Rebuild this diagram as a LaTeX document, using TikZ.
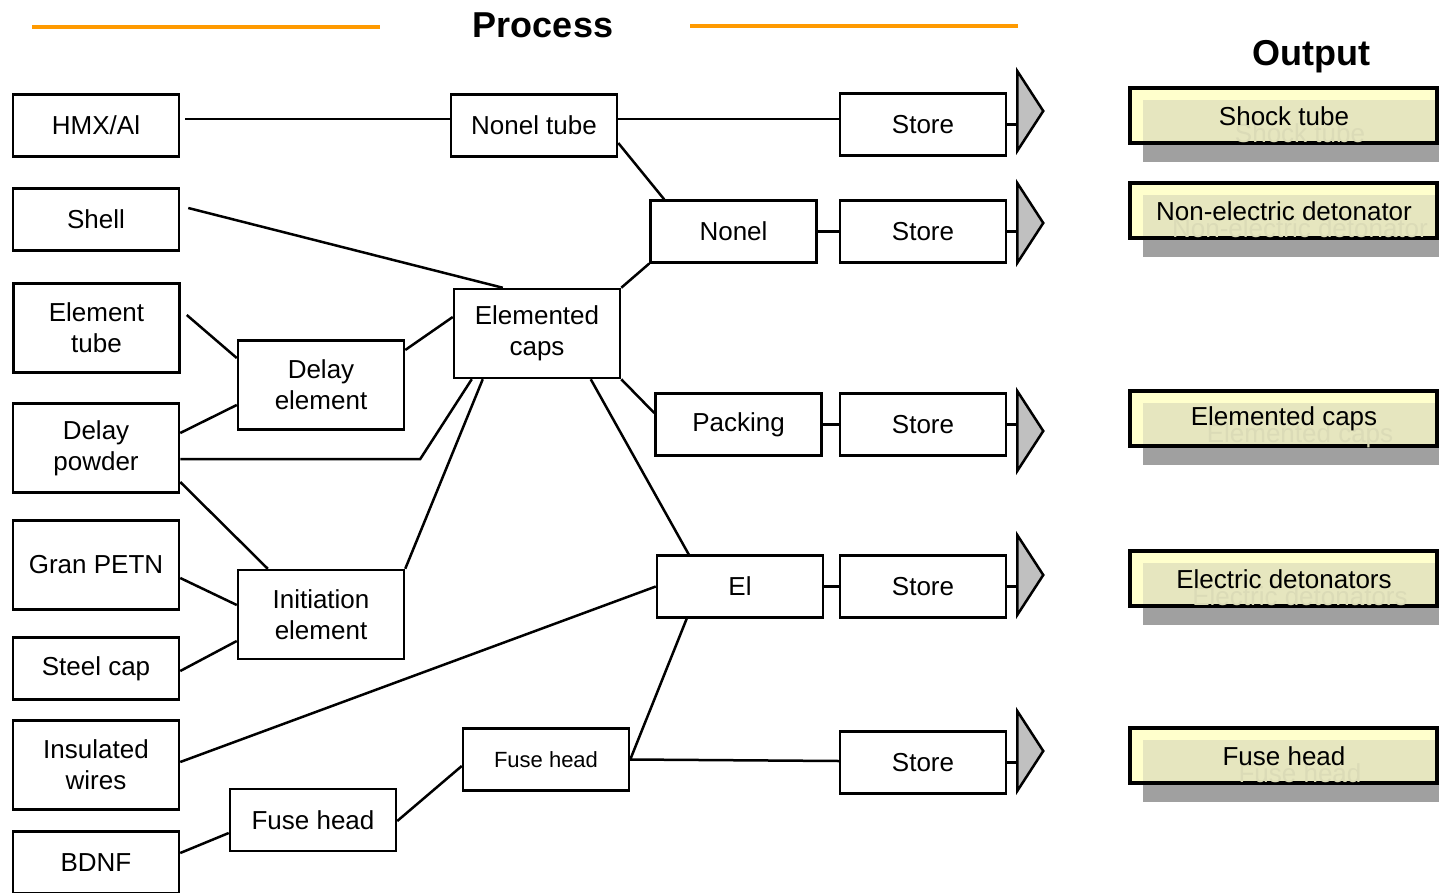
\documentclass[tikz,border=0pt]{standalone}
\usepackage{fontspec}
\setmainfont{Liberation Sans}
\usetikzlibrary{calc}
\definecolor{headorange}{HTML}{FF9A00}
\definecolor{outfill}{HTML}{FFFFCC}
\definecolor{outinner}{HTML}{E6E6BF}
\definecolor{outshadow}{HTML}{A0A0A0}
\definecolor{ghosttext}{HTML}{DBDBB7}
\definecolor{tipgray}{HTML}{C0C0C0}

\begin{document}
\begin{tikzpicture}[
  x=0.5pt, y=-0.5pt,
  line width=1.25pt,
  every node/.style={font=\fontsize{13}{15.5}\selectfont},
  box/.style={draw, line width=1.25pt, minimum width=83pt,
    minimum height=30.8pt, inner sep=0pt, align=center},
  tallbox/.style={box, minimum height=44.5pt},
  head/.style={font=\fontsize{18}{20}\selectfont\bfseries}
]
\useasboundingbox (0,0) rectangle (1439,893);
% headings
\node[head] (process) at (543,25) {Process};
\node[head] (output) at (1311,57) {Output};
\draw[headorange, line width=2pt] (32,27) -- (380,27);
\draw[headorange, line width=2pt] (690,26) -- (1018,26);
% raw materials
\node[box] (hmx) at (96,125.5) {HMX/Al};
\node[box] (shell) at (96,219.5) {Shell};
\node[tallbox] (eltube) at (96.5,328) {Element\\tube};
\node[tallbox] (dpowder) at (96,448) {Delay\\powder};
\node[tallbox] (petn) at (96,565) {Gran PETN};
\node[box] (steel) at (96,668.5) {Steel cap};
\node[tallbox] (insul) at (96,765) {Insulated\\wires};
\node[box] (bdnf) at (96,862.5) {BDNF};
% sub assemblies
\node[tallbox] (delay) at (321,385) {Delay\\element};
\node[tallbox] (init) at (321,614.5) {Initiation\\element};
\node[box] (fhlow) at (313,820) {Fuse head};
\node[box] (nonelt) at (534,125.5) {Nonel tube};
\node[tallbox] (ecaps) at (537,333.5) {Elemented\\caps};
\node[box, font=\fontsize{11}{13}\selectfont] (fhup) at (546,759.5) {Fuse head};
\node[box] (nonel) at (733.5,231.5) {Nonel};
\node[box] (packing) at (738.5,424.5) {Packing};
\node[box] (ei) at (740,586.5) {El};
% stores
\node[box] (store1) at (923,124.5) {Store};
\node[box] (store2) at (923,231.5) {Store};
\node[box] (store3) at (923,424.5) {Store};
\node[box] (store4) at (923,586.5) {Store};
\node[box] (store5) at (923,762.5) {Store};
% connections
\draw ($(hmx.east)+(5,-6.5)$) -- ($(nonelt.west)+(0,-6.5)$);
\draw ($(nonelt.east)+(0,-6.5)$) -- ($(store1.west)+(0,-5.5)$);
\draw ($(nonelt.east)+(0,17.5)$) -- ($(nonel.north west)+(15,0)$);
\draw (nonel.east) -- (store2.west);
\draw ($(shell.east)+(8,-11.5)$) -- ($(ecaps.north west)+(50,0)$);
\draw (ecaps.north east) -- (nonel.south west);
\draw ($(eltube.east)+(6,-13)$) -- ($(delay.west)+(0,-27)$);
\draw ($(dpowder.east)+(0,-15)$) -- ($(delay.west)+(0,20)$);
\draw ($(delay.east)+(0,-35)$) -- ($(ecaps.west)+(0,-16.5)$);
\draw ($(dpowder.east)+(0,11)$) -- ++(240,0) -- ($(ecaps.south west)+(19,0)$);
\draw ($(dpowder.east)+(0,34)$) -- ($(init.north west)+(31,0)$);
\draw ($(petn.east)+(0,13)$) -- ($(init.west)+(0,-9.5)$);
\draw ($(steel.east)+(0,2.5)$) -- ($(init.west)+(0,26.5)$);
\draw (init.north east) -- ($(ecaps.south west)+(30,0)$);
\draw (ecaps.south east) -- ($(packing.west)+(0,-11.5)$);
\draw ($(ecaps.south west)+(138,0)$) -- ($(ei.north west)+(33,0)$);
\draw (packing.east) -- (store3.west);
\draw (ei.east) -- (store4.west);
\draw ($(insul.east)+(0,-3)$) -- (ei.west);
\draw ($(ei.south west)+(31,0)$) -- (fhup.east) -- ($(store5.west)+(0,-1.5)$);
\draw ($(fhlow.east)+(0,1)$) -- ($(fhup.west)+(0,6.5)$);
\draw ($(bdnf.east)+(0,-9.5)$) -- ($(fhlow.west)+(0,13)$);
% arrow heads after the stores
\foreach \s/\dy in {store1/-13.5,store2/-8.5,store3/6.5,store4/-11.5,store5/-11.5}{
  \draw (\s.east) -- ($(\s.east)+(10,0)$);
  \filldraw[fill=tipgray]
    ($(\s.east)+(10,\dy-40)$) -- ($(\s.east)+(36,\dy)$)
    -- ($(\s.east)+(10,\dy+40)$) -- cycle;
}
% products
\foreach \yy/\txt/\nm in {86/Shock tube/shock,181/Non-electric detonator/nonelec,
  389/Elemented caps/capsout,549/Electric detonators/edet,726/Fuse head/fuseout}{
  \fill[outshadow] (1143,\yy+59) rectangle (1439,\yy+76);
  \fill[outfill] (1130,\yy+2) rectangle (1437,\yy+57);
  \fill[outinner] (1143,\yy+14) rectangle (1435,\yy+55);
  \draw[line width=2pt] (1130,\yy+2) rectangle (1437,\yy+57);
  \node[ghosttext] at (1300,\yy+47) {\txt};
  \node (\nm) at (1284,\yy+30) {\txt};
}
\end{tikzpicture}
\end{document}
